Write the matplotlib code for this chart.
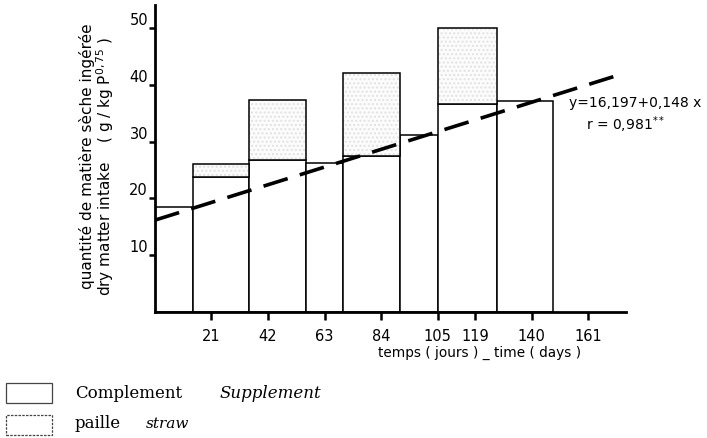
import matplotlib.pyplot as plt
from matplotlib.patches import Rectangle
import numpy as np

# bar edges in days
edges = [0, 14, 35, 56, 70, 91, 105, 127, 148]
# lower part (complement) and total height of each bar
lower = [18.5, 23.7, 26.7, 26.3, 27.4, 31.1, 36.6, 37.2]
total = [18.5, 26.1, 37.3, 26.3, 42.0, 31.1, 50.0, 37.2]

xticks = [21, 42, 63, 84, 105, 119, 140, 161]
yticks = [10, 20, 30, 40, 50]

# regression y = a + b x
a, b = 16.197, 0.148
x_line = np.array([0, 173])

fig = plt.figure(figsize=(7.07, 4.38), dpi=100)
ax = fig.add_axes([0.2192, 0.287, 0.6662, 0.7016])

left = np.array(edges[:-1])
width = np.diff(edges)
lower = np.array(lower)
total = np.array(total)
upper = total - lower
has_up = upper > 0

ax.bar(left, lower, width=width, align='edge', facecolor='white',
       edgecolor='black', linewidth=1.1, zorder=2)
# faint stipple on the upper part
ax.bar(left[has_up], upper[has_up], bottom=lower[has_up], width=width[has_up],
       align='edge', facecolor='#fcfcfc', edgecolor='#e2e2e2', linewidth=0,
       hatch='....', zorder=2)
ax.bar(left[has_up], upper[has_up], bottom=lower[has_up], width=width[has_up],
       align='edge', facecolor='none', edgecolor='black', linewidth=1.1,
       zorder=2)

ax.plot(x_line, a + b * x_line, color='black', linewidth=2.6,
        dashes=(7, 3.5), zorder=3)

ax.set_xlim(0, 175)
ax.set_ylim(0, 54)
for s in ['top', 'right']:
    ax.spines[s].set_visible(False)
ax.spines['left'].set_linewidth(2)
ax.spines['bottom'].set_linewidth(2)

ax.set_xticks(xticks)
ax.set_xticklabels([str(t) for t in xticks], fontsize=10.5)
ax.set_yticks(yticks)
ax.set_yticklabels([str(t) for t in yticks], fontsize=10.5)
ax.tick_params(axis='x', length=6, width=1.8, pad=6)
ax.tick_params(axis='y', length=4, width=1.8, pad=1)
for lbl in ax.get_yticklabels():
    lbl.set_verticalalignment('bottom')

ax.set_xlabel('temps ( jours ) _ time ( days )', fontsize=9.8)
ax.xaxis.set_label_coords(0.69, -0.11)

fig.text(0.123, 0.643, 'quantité de matière sèche ingérée', rotation=90,
         ha='center', va='center', fontsize=11)
fig.text(0.149, 0.62, r'dry matter intake    ( g / kg P$^{\mathregular{0,75}}$ )',
         rotation=90, ha='center', va='center', fontsize=11)

ax.text(0.878, 0.681, 'y=16,197+0,148 x', transform=ax.transAxes,
        fontsize=10, ha='left', va='center')
ax.text(1.0, 0.61, r'r = 0,981$^{**}$', transform=ax.transAxes,
        fontsize=10, ha='center', va='center')

# legend at the bottom
fig.patches.append(Rectangle((6 / 707, 1 - 403 / 438), 46 / 707, 20 / 438,
                             transform=fig.transFigure, facecolor='white',
                             edgecolor='#444444', linewidth=0.9))
fig.patches.append(Rectangle((6 / 707, 1 - 435 / 438), 46 / 707, 20 / 438,
                             transform=fig.transFigure, facecolor='white',
                             edgecolor='#444444', linewidth=0.9, linestyle=(0, (2, 1))))
fig.text(75 / 707, 1 - 393 / 438, 'Complement', family='DejaVu Serif',
         fontsize=12, va='center')
fig.text(220 / 707, 1 - 393 / 438, 'Supplement', family='DejaVu Serif',
         style='italic', fontsize=12, va='center')
fig.text(75 / 707, 1 - 424 / 438, 'paille', family='DejaVu Serif',
         fontsize=12, va='center')
fig.text(146 / 707, 1 - 424 / 438, 'straw', family='DejaVu Serif',
         style='italic', fontsize=11, va='center')

fig.savefig('out.png', dpi=100)
